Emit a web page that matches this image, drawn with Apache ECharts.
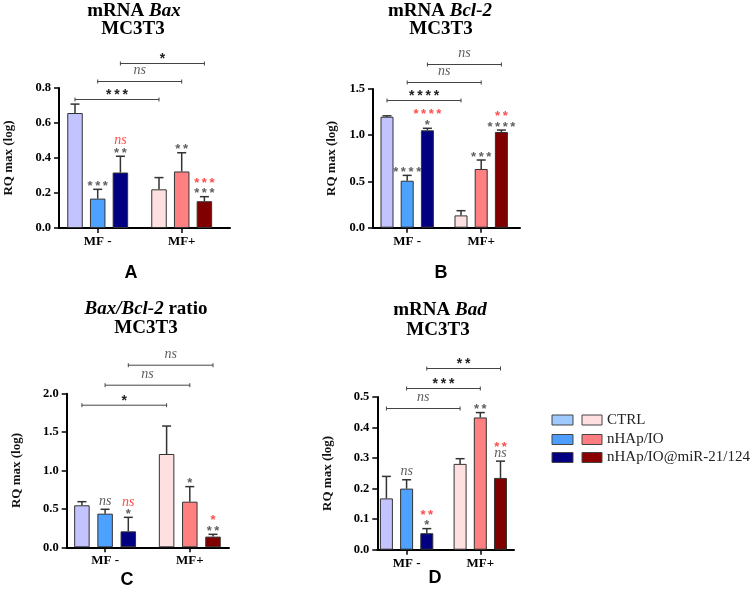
<!DOCTYPE html>
<html><head><meta charset="utf-8">
<script src="https://cdn.jsdelivr.net/npm/echarts@6/dist/echarts.min.js"></script>
<style>html,body{margin:0;padding:0;background:#fff}#c{width:753px;height:594px}</style>
</head><body><div id="c"></div>
<script>
// ---------------- DATA ----------------
const groups = ['MF -', 'MF+'];
const treatments = ['CTRL', 'nHAp/IO', 'nHAp/IO@miR-21/124'];
const yLabel = 'RQ max (log)';

// Panel A: mRNA Bax  (rows = treatments, cols = [MF -, MF+])
const baxMean = [[0.657, 0.221], [0.168, 0.323], [0.317, 0.153]];
const baxSd   = [[0.051, 0.067], [0.053, 0.107], [0.093, 0.026]];
const baxMarks = [[1,0,'***','g'], [2,0,'**','g'], [2,0,'ns','r'], [1,1,'**','g'], [2,1,'***','g'], [2,1,'***','r']];
const baxPairs = ['***', 'ns', '*'];

// Panel B: mRNA Bcl-2
const bclMean = [[1.200, 0.133], [0.508, 0.635], [1.053, 1.035]];
const bclSd   = [[0.010, 0.051], [0.058, 0.097], [0.022, 0.021]];
const bclMarks = [[1,0,'****','g'], [2,0,'*','g'], [2,0,'****','r'], [1,1,'***','g'], [2,1,'****','g'], [2,1,'**','r']];
const bclPairs = ['****', 'ns', 'ns'];

// Panel C: Bax/Bcl-2 ratio
const ratioMean = [[0.547, 1.215], [0.438, 0.594], [0.208, 0.139]];
const ratioSd   = [[0.047, 0.364], [0.057, 0.196], [0.182, 0.030]];
const ratioMarks = [[1,0,'ns','g'], [2,0,'*','g'], [2,0,'ns','r'], [1,1,'*','g'], [2,1,'**','g'], [2,1,'*','r']];
const ratioPairs = ['*', 'ns', 'ns'];

// Panel D: mRNA Bad
const badMean = [[0.168, 0.281], [0.200, 0.433], [0.054, 0.235]];
const badSd   = [[0.072, 0.017], [0.029, 0.016], [0.015, 0.055]];
const badMarks = [[1,0,'ns','g'], [2,0,'*','g'], [2,0,'**','r'], [1,1,'**','g'], [2,1,'ns','g'], [2,1,'**','r']];
const badPairs = ['ns', '***', '**'];

const yMaxes = [0.8, 1.5, 2.0, 0.5];
const yIntervals = [0.2, 0.5, 0.5, 0.1];

// ---------------- STYLE / LAYOUT ----------------
const barColors = [['#c3c3ff', '#ffe0e0'], ['#4da2ff', '#ff8080'], ['#000080', '#800000']];
const legendColors = [['#9fcaff', '#ffdfe0'], ['#4d9eff', '#ff7c80'], ['#000080', '#8b0000']];
const GRAY = '#5f5f5f', RED = '#ff4d4d';
const SERIF = 'Liberation Serif', SANS = 'Liberation Sans';

const panels = [
  {mean: baxMean, sd: baxSd, marks: baxMarks, pairs: baxPairs,
   box: {left: 59, top: 88, width: 171, height: 140}, g0: 38.7, unit: 84, barW: 15.5, pitch: 22.7,
   nameGap: 44, bStep: 18, title: '{n|mRNA }{i|Bax}', t1: [134, 11], t2: [133, 29], letter: 'A', lxy: [131, 273]},
  {mean: bclMean, sd: bclSd, marks: bclMarks, pairs: bclPairs,
   box: {left: 373, top: 89, width: 147, height: 138.7}, g0: 34.2, unit: 74, barW: 13, pitch: 20.2,
   nameGap: 35, bStep: 18, title: '{n|mRNA }{i|Bcl-2}', t1: [440, 11], t2: [441, 29], letter: 'B', lxy: [441, 273]},
  {mean: ratioMean, sd: ratioSd, marks: ratioMarks, pairs: ratioPairs,
   box: {left: 66.7, top: 393.7, width: 162.3, height: 153.6}, g0: 38.4, unit: 84.7, barW: 15.5, pitch: 23.2,
   nameGap: 44, bStep: 20, title: '{i|Bax/Bcl-2}{n| ratio}', t1: [146, 309], t2: [146, 328], letter: 'C', lxy: [127, 580]},
  {mean: badMean, sd: badSd, marks: badMarks, pairs: badPairs,
   box: {left: 377.3, top: 397, width: 136.7, height: 152.7}, g0: 29.3, unit: 73.7, barW: 13, pitch: 20.2,
   nameGap: 43, bStep: 20, title: '{n|mRNA }{i|Bad}', t1: [440, 310], t2: [438, 330], letter: 'D', lxy: [435, 578]}
];

function spaced(s) { return s.split('').join('\u2009'); }
function markEl(text, x, yc, color, isBracket) {
  const ns = text === 'ns';
  return {
    type: 'text', x: x, y: ns ? yc - 1 : yc + 4,
    style: {
      text: ns ? 'ns' : spaced(text), fill: color, align: 'center', verticalAlign: 'middle',
      fontFamily: ns ? SERIF : SANS, fontStyle: ns ? 'italic' : 'normal',
      fontWeight: ns ? 'normal' : 'bold', fontSize: ns ? 14 : (isBracket ? 14 : 13)
    }
  };
}

const grids = [], xAxes = [], yAxes = [], series = [], graphics = [];

panels.forEach((P, p) => {
  grids.push(Object.assign({containLabel: false, outerBoundsMode: 'none'}, P.box));
  xAxes.push({
    type: 'value', gridIndex: p,
    min: -P.g0 / P.unit, max: (P.box.width - P.g0) / P.unit,
    axisLine: {show: true, onZero: false, lineStyle: {color: '#000', width: 2}},
    axisTick: {show: true, customValues: [0, 1], length: 5, lineStyle: {color: '#000', width: 1.5}},
    axisLabel: {show: true, customValues: [0, 1], formatter: v => groups[Math.round(v)], margin: 7,
      fontFamily: SERIF, fontWeight: 'bold', fontSize: 13, color: '#000'},
    splitLine: {show: false}
  });
  yAxes.push({
    type: 'value', gridIndex: p, min: 0, max: yMaxes[p], interval: yIntervals[p],
    axisLine: {show: true, onZero: false, lineStyle: {color: '#000', width: 2}},
    axisTick: {show: true, length: 5, lineStyle: {color: '#000', width: 1.5}},
    axisLabel: {formatter: v => v.toFixed(1), margin: 8, fontFamily: SERIF, fontWeight: 'bold', fontSize: 12.5, color: '#000'},
    splitLine: {show: false},
    name: yLabel, nameLocation: 'middle', nameRotate: 90, nameGap: P.nameGap,
    nameTextStyle: {fontFamily: SERIF, fontWeight: 'bold', fontSize: 13, color: '#111'}
  });

  const gapPct = ((P.pitch - P.barW) / P.barW * 100).toFixed(2) + '%';
  treatments.forEach((tName, t) => {
    series.push({
      type: 'bar', name: tName, xAxisIndex: p, yAxisIndex: p,
      barWidth: P.barW, barGap: gapPct, z: 2,
      itemStyle: {borderColor: '#333', borderWidth: 1},
      data: groups.map((g, gi) => ({value: [gi, P.mean[t][gi]], itemStyle: {color: barColors[t][gi]}}))
    });
  });

  // error bars (upper SD)
  const errData = [];
  treatments.forEach((tn, t) => groups.forEach((g, gi) => errData.push([gi, P.mean[t][gi] + P.sd[t][gi], P.mean[t][gi], t])));
  series.push({
    type: 'custom', xAxisIndex: p, yAxisIndex: p, clip: false, z: 3, encode: {x: 0, y: 1},
    data: errData,
    renderItem: (params, api) => {
      const gi = api.value(0), top = api.value(1), m = api.value(2), t = api.value(3);
      const pt = api.coord([gi, top]), pm = api.coord([gi, m]);
      const cx = pt[0] + (t - 1) * P.pitch;
      const st = {stroke: '#333', lineWidth: 1.5};
      return {type: 'group', children: [
        {type: 'line', shape: {x1: cx, y1: pm[1], x2: cx, y2: pt[1]}, style: st},
        {type: 'line', shape: {x1: cx - 4.5, y1: pt[1], x2: cx + 4.5, y2: pt[1]}, style: st}
      ]};
    }
  });

  // significance marks above bars (stacked upward in listed order)
  const markData = P.marks.map((mk, i) => [mk[1], P.mean[mk[0]][mk[1]] + P.sd[mk[0]][mk[1]], mk[0], i]);
  series.push({
    type: 'custom', xAxisIndex: p, yAxisIndex: p, clip: false, z: 4, encode: {x: 0, y: 1},
    data: markData,
    renderItem: (params, api) => {
      const gi = api.value(0), top = api.value(1), t = api.value(2), i = api.value(3);
      const pt = api.coord([gi, top]);
      const cx = pt[0] + (t - 1) * P.pitch;
      let yc = pt[1] - 7;
      let first = true;
      for (let k = 0; k <= i; k++) {
        const o = P.marks[k];
        if (o[0] !== t || o[1] !== gi) continue;
        if (!first) yc -= (o[2] === 'ns' ? 7.5 : 10.5);
        first = false;
      }
      const mk = P.marks[i];
      return markEl(mk[2], cx, yc, mk[3] === 'r' ? RED : GRAY, false);
    }
  });

  // comparison brackets MF- vs MF+ per treatment
  series.push({
    type: 'custom', xAxisIndex: p, yAxisIndex: p, clip: false, z: 4, encode: {x: 0, y: 1},
    data: P.pairs.map((s, t) => [0, yMaxes[p], t]),
    renderItem: (params, api) => {
      const t = api.value(2);
      const a = api.coord([0, yMaxes[p]]), b = api.coord([1, yMaxes[p]]);
      const x1 = a[0] + (t - 1) * P.pitch, x2 = b[0] + (t - 1) * P.pitch;
      const y = a[1] + 11.5 - P.bStep * t;
      const st = {stroke: '#444', lineWidth: 1};
      const txt = P.pairs[t];
      const ns = txt === 'ns';
      return {type: 'group', children: [
        {type: 'line', shape: {x1: x1, y1: y, x2: x2, y2: y}, style: st},
        {type: 'line', shape: {x1: x1, y1: y - 2, x2: x1, y2: y + 2}, style: st},
        {type: 'line', shape: {x1: x2, y1: y - 2, x2: x2, y2: y + 2}, style: st},
        markEl(txt, (x1 + x2) / 2, ns ? y - 10 : y - 8, ns ? GRAY : '#222', true)
      ]};
    }
  });

  // titles and panel letters
  const titleRich = {
    n: {fontFamily: SERIF, fontWeight: 'bold', fontSize: 19, fill: '#000'},
    i: {fontFamily: SERIF, fontWeight: 'bold', fontStyle: 'italic', fontSize: 19, fill: '#000'}
  };
  graphics.push({type: 'text', x: P.t1[0], y: P.t1[1], style: {text: P.title, rich: titleRich, align: 'center', verticalAlign: 'middle'}});
  graphics.push({type: 'text', x: P.t2[0], y: P.t2[1], style: {text: 'MC3T3', fontFamily: SERIF, fontWeight: 'bold', fontSize: 19, fill: '#000', align: 'center', verticalAlign: 'middle'}});
  graphics.push({type: 'text', x: P.lxy[0], y: P.lxy[1], style: {text: P.letter, fontFamily: SANS, fontWeight: 'bold', fontSize: 18, fill: '#000', align: 'center', verticalAlign: 'middle'}});
});

// legend (two swatches per row: MF- colour, MF+ colour)
const legendRowsY = [420, 439.5, 457.5];
treatments.forEach((tName, t) => {
  const y = legendRowsY[t];
  graphics.push({type: 'rect', shape: {x: 552, y: y - 5, width: 21, height: 10}, style: {fill: legendColors[t][0], stroke: '#444', lineWidth: 1}});
  graphics.push({type: 'rect', shape: {x: 582, y: y - 5, width: 20, height: 10}, style: {fill: legendColors[t][1], stroke: '#444', lineWidth: 1}});
  graphics.push({type: 'text', x: 607, y: y, style: {text: tName, fontFamily: SERIF, fontSize: 15, fill: '#222', align: 'left', verticalAlign: 'middle'}});
});

const chart = echarts.init(document.getElementById('c'), null, {renderer: 'canvas'});
chart.setOption({
  animation: false,
  backgroundColor: '#fff',
  grid: grids, xAxis: xAxes, yAxis: yAxes, series: series, graphic: graphics
});
</script></body></html>
